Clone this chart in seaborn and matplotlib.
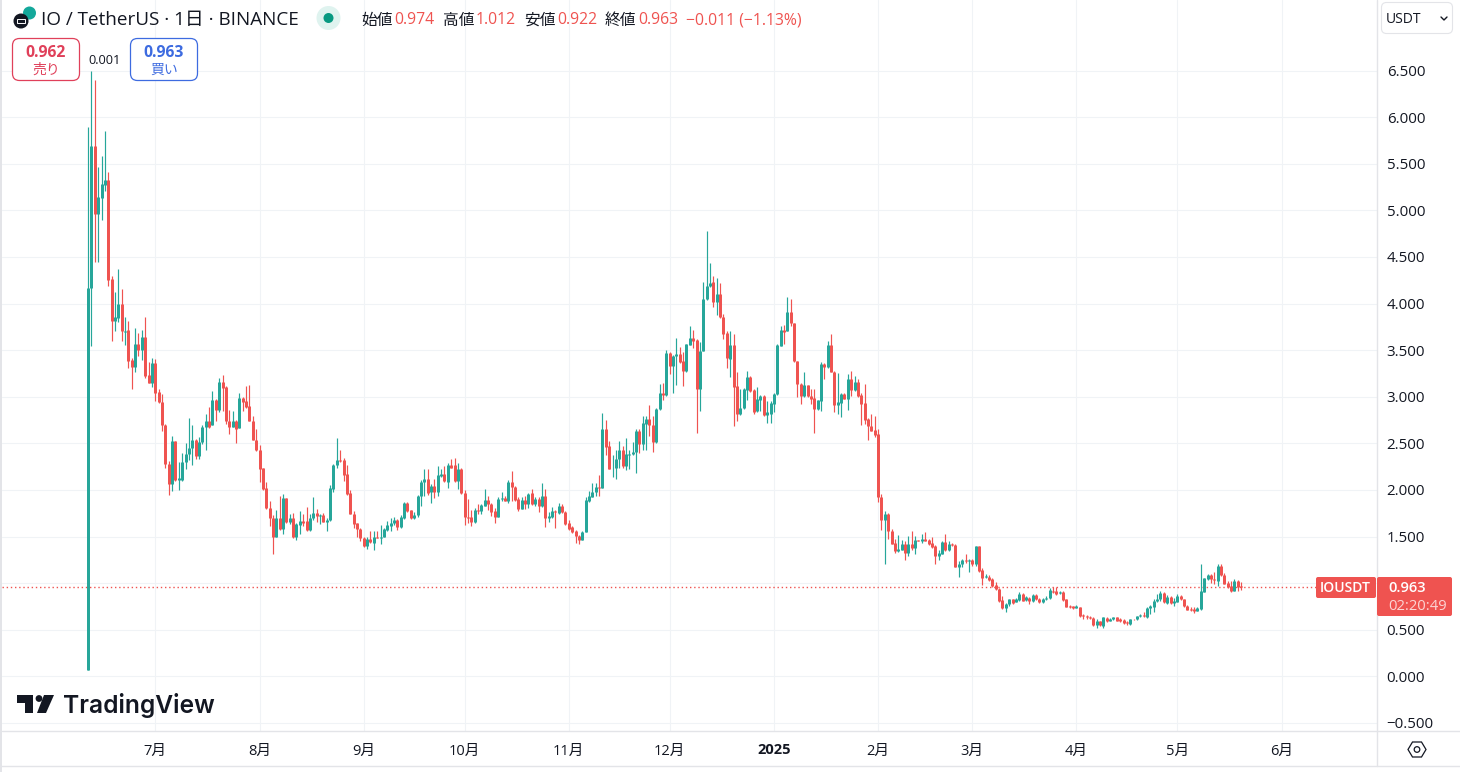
import matplotlib
matplotlib.use('Agg')
import matplotlib.pyplot as plt
import matplotlib.dates as mdates
from matplotlib.patches import Circle, FancyBboxPatch, Polygon, Rectangle
import seaborn as sns
import pandas as pd

first_day = '2024-06-11'

opens = [0.07,4.17,5.69,4.96,5.13,5.27,5.33,4.26,3.81,3.84,
    3.99,3.69,3.72,3.39,3.32,3.57,3.50,3.64,3.23,3.15,
    3.36,3.05,2.94,2.70,2.28,2.06,2.52,2.11,2.11,2.30,
    2.39,2.45,2.54,2.36,2.51,2.67,2.74,2.70,2.97,2.86,
    3.16,3.10,2.74,2.68,2.74,2.66,2.99,2.95,2.90,2.74,
    2.54,2.43,2.23,2.02,1.81,1.70,1.50,1.70,1.58,1.91,
    1.66,1.70,1.49,1.62,1.67,1.67,1.57,1.70,1.75,1.72,
    1.73,1.66,1.68,2.01,2.27,2.32,2.32,2.17,1.97,1.74,
    1.64,1.58,1.48,1.40,1.47,1.43,1.50,1.48,1.50,1.57,
    1.61,1.64,1.68,1.60,1.70,1.86,1.78,1.70,1.73,1.93,
    2.08,2.12,1.98,2.04,1.98,2.15,2.17,2.09,2.27,2.27,
    2.10,2.22,1.97,1.71,1.71,1.66,1.78,1.77,1.83,1.89,
    1.85,1.77,1.71,1.90,1.91,1.88,2.08,2.03,1.90,1.80,
    1.89,1.85,1.97,1.85,1.90,1.83,1.94,1.70,1.71,1.77,
    1.75,1.83,1.76,1.64,1.60,1.56,1.51,1.46,1.55,1.88,
    1.92,1.98,2.03,2.02,2.65,2.47,2.23,2.24,2.33,2.43,
    2.26,2.38,2.39,2.41,2.63,2.49,2.71,2.76,2.70,2.51,
    2.87,3.04,3.02,3.47,3.33,3.44,3.46,3.38,3.28,3.56,
    3.63,3.61,3.08,3.49,4.05,4.19,4.23,4.02,4.10,3.85,
    3.68,3.41,3.56,3.11,2.81,2.88,3.07,3.21,3.07,2.85,
    2.97,3.01,2.80,2.82,2.92,3.03,3.54,3.72,3.71,3.91,
    3.79,3.38,3.14,3.01,3.13,3.01,2.99,2.87,2.95,3.35,
    3.32,3.55,3.27,2.91,2.93,3.03,2.98,3.19,3.07,3.16,
    3.02,2.93,2.76,2.69,2.64,2.60,1.92,1.68,1.74,1.56,
    1.43,1.35,1.36,1.42,1.32,1.42,1.38,1.46,1.45,1.47,
    1.46,1.43,1.40,1.29,1.31,1.44,1.36,1.42,1.41,1.17,
    1.21,1.25,1.24,1.25,1.21,1.40,1.14,1.07,1.07,1.04,
    0.98,0.94,0.82,0.73,0.78,0.83,0.80,0.82,0.88,0.82,
    0.84,0.81,0.87,0.83,0.80,0.83,0.84,0.92,0.92,0.89,
    0.91,0.83,0.75,0.75,0.73,0.74,0.66,0.65,0.64,0.63,
    0.55,0.59,0.54,0.63,0.59,0.61,0.64,0.61,0.60,0.58,
    0.56,0.62,0.61,0.65,0.66,0.64,0.73,0.74,0.81,0.83,
    0.89,0.79,0.85,0.79,0.80,0.86,0.83,0.75,0.72,0.72,
    0.70,0.72,0.91,1.04,1.09,1.04,1.02,1.18,1.09,1.00,
    0.97,0.92,1.02,0.974]

highs = [5.89,6.50,6.40,5.46,5.58,5.85,5.41,4.30,4.12,4.37,
    4.16,3.86,3.81,3.42,3.74,3.68,3.72,3.85,3.37,3.42,
    3.40,3.08,3.03,2.71,2.31,2.58,2.52,2.30,2.40,2.50,
    2.77,2.70,2.55,2.57,2.70,2.82,2.89,3.06,2.98,3.20,
    3.23,3.11,2.86,2.85,2.75,3.04,3.00,3.11,3.13,2.79,
    2.65,2.48,2.24,2.08,1.88,1.73,1.78,1.93,1.96,1.91,
    1.74,1.75,1.65,1.77,1.74,1.82,1.74,1.92,1.80,1.74,
    1.75,1.70,2.05,2.28,2.56,2.43,2.34,2.27,2.00,1.77,
    1.65,1.59,1.49,1.50,1.56,1.56,1.56,1.62,1.59,1.67,
    1.70,1.71,1.69,1.73,1.87,1.87,1.79,1.76,1.95,2.11,
    2.22,2.22,2.06,2.12,2.26,2.22,2.26,2.29,2.33,2.34,
    2.29,2.24,2.00,1.90,1.79,1.81,1.85,1.85,2.01,1.93,
    1.86,1.81,1.92,1.98,1.93,2.11,2.20,2.04,1.92,1.92,
    1.93,1.97,2.01,1.92,1.92,2.07,2.01,1.76,1.82,1.78,
    1.86,1.85,1.77,1.68,1.61,1.57,1.52,1.56,1.92,1.99,
    2.07,2.07,2.16,2.83,2.75,2.53,2.38,2.43,2.52,2.47,
    2.56,2.43,2.51,2.65,2.65,2.79,2.79,2.91,2.79,2.88,
    3.14,3.15,3.50,3.48,3.45,3.63,3.53,3.48,3.57,3.76,
    3.72,3.62,3.59,4.23,4.78,4.43,4.30,4.27,4.22,3.89,
    3.70,3.71,3.67,3.27,3.08,3.09,3.28,3.22,3.08,3.10,
    3.02,3.02,2.95,2.95,3.04,3.57,3.76,3.77,4.07,4.05,
    3.79,3.38,3.15,3.27,3.13,3.08,3.08,2.97,3.37,3.36,
    3.60,3.67,3.28,3.25,3.04,3.04,3.24,3.28,3.22,3.19,
    3.04,3.14,2.77,2.82,2.79,2.65,1.96,1.77,1.75,1.58,
    1.47,1.52,1.46,1.45,1.51,1.56,1.51,1.46,1.53,1.55,
    1.47,1.49,1.41,1.36,1.45,1.53,1.45,1.43,1.42,1.24,
    1.26,1.31,1.26,1.26,1.40,1.40,1.16,1.10,1.09,1.05,
    1.01,0.95,0.86,0.79,0.83,0.83,0.84,0.90,0.89,0.86,
    0.85,0.88,0.88,0.84,0.84,0.86,0.95,0.96,0.96,0.92,
    0.92,0.83,0.77,0.75,0.77,0.74,0.67,0.66,0.65,0.64,
    0.61,0.59,0.64,0.64,0.63,0.64,0.64,0.63,0.62,0.59,
    0.62,0.62,0.65,0.67,0.69,0.74,0.77,0.83,0.88,0.92,
    0.90,0.87,0.86,0.84,0.88,0.87,0.83,0.77,0.74,0.74,
    0.74,1.20,1.06,1.10,1.10,1.12,1.20,1.21,1.11,1.02,
    1.02,1.04,1.03,1.012]

lows = [0.07,3.54,4.45,4.45,4.90,5.21,4.19,3.60,3.70,3.80,
    3.60,3.56,3.31,3.08,3.27,3.44,3.39,3.20,3.15,3.10,
    2.95,2.93,2.63,2.24,1.95,1.99,2.10,2.00,2.10,2.22,
    2.32,2.27,2.33,2.33,2.49,2.43,2.66,2.70,2.74,2.84,
    2.85,2.71,2.60,2.68,2.50,2.66,2.85,2.88,2.74,2.54,
    2.42,2.08,2.00,1.80,1.61,1.31,1.50,1.57,1.53,1.65,
    1.63,1.48,1.46,1.53,1.61,1.56,1.56,1.68,1.66,1.63,
    1.66,1.56,1.67,1.98,2.24,2.30,2.10,1.95,1.74,1.59,
    1.49,1.45,1.39,1.37,1.43,1.36,1.48,1.42,1.49,1.56,
    1.56,1.62,1.57,1.59,1.69,1.76,1.69,1.69,1.71,1.83,
    1.93,1.95,1.86,1.91,1.93,2.14,2.09,2.02,2.23,2.08,
    2.01,1.96,1.62,1.65,1.61,1.64,1.74,1.74,1.83,1.79,
    1.72,1.64,1.71,1.88,1.88,1.86,1.88,1.88,1.77,1.80,
    1.80,1.81,1.84,1.83,1.76,1.82,1.60,1.66,1.70,1.59,
    1.74,1.75,1.62,1.57,1.54,1.43,1.42,1.46,1.55,1.87,
    1.92,1.93,1.93,2.02,2.38,2.22,2.14,2.12,2.24,2.24,
    2.21,2.22,2.38,2.18,2.40,2.43,2.43,2.58,2.41,2.50,
    2.86,2.96,3.01,3.24,3.04,3.13,3.36,3.12,3.27,3.55,
    3.52,2.61,2.85,3.49,4.04,4.18,3.96,3.88,3.84,3.62,
    3.31,3.21,2.69,2.74,2.80,2.87,2.97,3.05,2.82,2.84,
    2.85,2.79,2.72,2.72,2.84,3.02,3.54,3.57,3.70,3.76,
    3.37,3.00,2.92,3.00,3.00,2.92,2.61,2.86,2.85,3.19,
    3.31,3.26,2.84,2.81,2.78,2.98,2.86,3.01,3.06,3.00,
    2.70,2.71,2.54,2.63,2.57,1.87,1.57,1.21,1.47,1.42,
    1.32,1.33,1.36,1.25,1.29,1.36,1.31,1.45,1.43,1.45,
    1.41,1.38,1.21,1.25,1.31,1.34,1.35,1.40,1.17,1.07,
    1.17,1.22,1.12,1.18,1.18,1.12,0.98,1.05,1.02,0.96,
    0.93,0.80,0.72,0.69,0.76,0.78,0.80,0.81,0.81,0.81,
    0.78,0.80,0.82,0.79,0.79,0.82,0.83,0.89,0.87,0.88,
    0.81,0.74,0.73,0.72,0.73,0.64,0.62,0.61,0.62,0.54,
    0.52,0.54,0.52,0.58,0.59,0.60,0.59,0.58,0.56,0.55,
    0.55,0.60,0.60,0.64,0.64,0.63,0.67,0.69,0.80,0.81,
    0.79,0.78,0.78,0.75,0.80,0.82,0.74,0.71,0.70,0.68,
    0.70,0.71,0.90,1.03,1.00,0.99,0.97,1.08,0.99,0.95,
    0.90,0.92,0.92,0.922]

closes = [4.17,5.69,4.96,5.14,5.28,5.33,4.25,3.81,3.85,3.99,
    3.70,3.70,3.38,3.32,3.57,3.50,3.64,3.22,3.15,3.36,
    3.04,2.94,2.70,2.28,2.06,2.52,2.11,2.13,2.30,2.39,
    2.45,2.54,2.36,2.51,2.67,2.74,2.68,2.97,2.86,3.16,
    3.09,2.74,2.68,2.74,2.65,2.99,2.94,2.89,2.74,2.54,
    2.43,2.22,2.01,1.81,1.70,1.50,1.70,1.58,1.91,1.66,
    1.70,1.49,1.63,1.67,1.64,1.57,1.70,1.75,1.72,1.73,
    1.66,1.68,2.02,2.27,2.32,2.31,2.16,1.96,1.74,1.63,
    1.58,1.48,1.40,1.47,1.44,1.50,1.48,1.50,1.58,1.62,
    1.65,1.68,1.60,1.71,1.86,1.77,1.70,1.73,1.94,2.08,
    2.12,1.97,2.04,1.98,2.16,2.17,2.10,2.27,2.24,2.10,
    2.22,1.97,1.71,1.70,1.66,1.78,1.77,1.84,1.89,1.85,
    1.76,1.71,1.90,1.91,1.88,2.08,2.03,1.89,1.80,1.89,
    1.85,1.96,1.85,1.90,1.83,1.94,1.70,1.72,1.77,1.76,
    1.83,1.76,1.63,1.58,1.55,1.51,1.46,1.55,1.89,1.93,
    1.98,2.03,2.02,2.65,2.46,2.22,2.24,2.33,2.43,2.26,
    2.39,2.39,2.41,2.63,2.49,2.72,2.76,2.70,2.51,2.87,
    3.04,3.02,3.47,3.33,3.44,3.46,3.37,3.28,3.57,3.63,
    3.60,3.08,3.49,4.05,4.19,4.22,4.02,4.10,3.85,3.67,
    3.42,3.56,3.10,2.81,2.88,3.08,3.21,3.06,2.84,2.98,
    3.01,2.80,2.84,2.93,3.03,3.55,3.72,3.69,3.91,3.79,
    3.38,3.14,3.01,3.13,3.01,2.98,2.87,2.96,3.35,3.32,
    3.55,3.27,2.91,2.94,3.03,2.98,3.19,3.07,3.16,3.01,
    2.92,2.75,2.69,2.63,2.59,1.92,1.68,1.74,1.56,1.42,
    1.35,1.37,1.42,1.32,1.42,1.38,1.46,1.45,1.47,1.45,
    1.42,1.39,1.29,1.32,1.44,1.36,1.42,1.41,1.17,1.21,
    1.25,1.24,1.25,1.21,1.40,1.13,1.06,1.08,1.03,0.97,
    0.94,0.81,0.73,0.78,0.83,0.79,0.83,0.88,0.81,0.85,
    0.81,0.87,0.83,0.80,0.83,0.84,0.93,0.91,0.88,0.91,
    0.82,0.74,0.74,0.73,0.75,0.65,0.65,0.64,0.63,0.55,
    0.59,0.55,0.64,0.59,0.62,0.64,0.59,0.59,0.57,0.57,
    0.61,0.61,0.65,0.66,0.65,0.73,0.75,0.81,0.83,0.89,
    0.80,0.85,0.79,0.81,0.86,0.83,0.75,0.71,0.71,0.70,
    0.73,0.92,1.05,1.09,1.04,1.03,1.18,1.09,0.99,0.96,
    0.92,1.02,0.96,0.963]

price_ticks = [-0.5, 0.0, 0.5, 1.0, 1.5, 2.0, 2.5, 3.0, 3.5, 4.0, 4.5, 5.0, 5.5, 6.0, 6.5]
month_ticks = ['2024-07-01', '2024-08-01', '2024-09-01', '2024-10-01', '2024-11-01', '2024-12-01',
               '2025-01-01', '2025-02-01', '2025-03-01', '2025-04-01', '2025-05-01', '2025-06-01']
month_labels = ['7月', '8月', '9月', '10月', '11月', '12月', '2025', '2月', '3月', '4月', '5月', '6月']
last_price = 0.963

UP = '#26a69a'
DOWN = '#ef5350'
GRID = '#f0f3f6'
EDGE = '#e3e4e8'
INK = '#131722'
FONT = ['Open Sans', 'Noto Sans CJK JP', 'DejaVu Sans']

sns.set_style('white')
plt.rcParams['font.family'] = FONT

# one row per candle end, so lineplot can draw each wick and body as its own line
days = mdates.date2num(pd.date_range(first_day, periods=len(opens)))
df = pd.DataFrame({'day': days, 'open': opens, 'high': highs, 'low': lows, 'close': closes})
df['side'] = ['up' if c >= o else 'down' for o, c in zip(opens, closes)]
df['candle'] = range(len(df))
wicks = df.melt(id_vars=['day', 'side', 'candle'], value_vars=['low', 'high'], value_name='price')
bodies = df.melt(id_vars=['day', 'side', 'candle'], value_vars=['open', 'close'], value_name='price')
palette = {'up': UP, 'down': DOWN}

fig = plt.figure(figsize=(14.6, 7.72), dpi=100, facecolor='white')
ax = fig.add_axes([2 / 1460, 1 - 731 / 772, 1375 / 1460, 731 / 772])

for part, width in [(wicks, 0.85), (bodies, 2.15)]:
    sns.lineplot(data=part, x='day', y='price', hue='side', units='candle', estimator=None,
                 palette=palette, sort=False, legend=False, linewidth=width,
                 solid_capstyle='butt', ax=ax, zorder=3)

# the scales: 3.362 px a day and 93.2 px per 1.0 of price
ax.set_xlim(days[0] - 25.6, days[0] + 383.4)
ax.set_ylim(-0.5865, 7.2565)
ax.axhline(last_price, color=DOWN, linewidth=1.0, linestyle=(0, (1, 2)), zorder=2)

ax.set_xticks(mdates.date2num(pd.to_datetime(month_ticks)))
ax.set_xticklabels(month_labels)
ax.set_yticks(price_ticks)
# the 1.000 label sits behind the last price tag in the original, so only its gridline stays
ax.set_yticklabels(['' if p == 1.0 else ('%.3f' % p).replace('-', '−') for p in price_ticks])
ax.yaxis.tick_right()
ax.grid(True, color=GRID, linewidth=0.8)
ax.set_axisbelow(True)
ax.set_xlabel('')
ax.set_ylabel('')
ax.tick_params(axis='x', length=0, pad=9, labelsize=10.5, labelcolor=INK)
ax.tick_params(axis='y', length=0, pad=7, labelsize=10.8, labelcolor=INK)
for label in ax.get_xticklabels():
    if label.get_text() == '2025':
        label.set_fontweight('bold')
for spine in ax.spines.values():
    spine.set_visible(False)

# everything around the chart, in reference pixels
top = fig.add_axes([0, 0, 1, 1], facecolor='none')
top.set_xlim(0, 1460)
top.set_ylim(772, 0)
top.axis('off')

top.add_patch(Rectangle((0, 0), 2, 772, color=EDGE, lw=0))
top.plot([2, 1460], [731, 731], color=EDGE, lw=1)
top.plot([0, 1460], [765.5, 765.5], color=EDGE, lw=1)
top.plot([1377, 1377], [0, 766], color=EDGE, lw=1)

# symbol icon and title
top.add_patch(Circle((29.5, 13), 6.5, color='#14a89b', lw=0))
top.add_patch(Circle((21, 21), 7.5, color='#131722', lw=0))
top.add_patch(Rectangle((17, 19), 8, 4, fc='none', ec='white', lw=0.7))
top.text(41, 20, 'IO / TetherUS · 1日 · BINANCE', fontsize=13.6, color=INK, va='center')

top.add_patch(Circle((328.5, 18), 12, color='#dff3ef', lw=0))
top.add_patch(Circle((328.5, 18), 5, color='#089981', lw=0))

for x, text in [(361, '始値'), (443, '高値'), (524, '安値'), (605, '終値')]:
    top.text(x, 20.5, text, fontsize=11.3, color=INK, va='center')
for x, text in [(394, '0.974'), (476, '1.012'), (557, '0.922'), (638, '0.963'), (686, '−0.011 (−1.13%)')]:
    top.text(x, 20.5, text, fontsize=11.3, color=DOWN, va='center')

# sell and buy boxes
top.add_patch(FancyBboxPatch((12.5, 38.5), 67, 42, boxstyle='round,pad=0,rounding_size=7',
                             fc='white', ec='#e0405a', lw=0.9, zorder=5))
top.text(46, 53, '0.962', fontsize=11.3, color='#e0405a', fontweight='bold', ha='center', va='center', zorder=6)
top.text(46, 70, '売り', fontsize=10, color='#e0405a', ha='center', va='center', zorder=6)
top.text(105, 60, '0.001', fontsize=9.2, color=INK, ha='center', va='center', zorder=6)
top.add_patch(FancyBboxPatch((130.5, 38.5), 67, 42, boxstyle='round,pad=0,rounding_size=7',
                             fc='white', ec='#3d6be0', lw=0.9, zorder=5))
top.text(164, 53, '0.963', fontsize=11.3, color='#3d6be0', fontweight='bold', ha='center', va='center', zorder=6)
top.text(164, 70, '買い', fontsize=10, color='#3d6be0', ha='center', va='center', zorder=6)

# currency button
top.add_patch(FancyBboxPatch((1381.5, 2.5), 71, 31, boxstyle='round,pad=0,rounding_size=5',
                             fc='white', ec=EDGE, lw=0.8))
top.text(1386, 19.5, 'USDT', fontsize=10, color=INK, va='center')
top.plot([1441, 1444, 1447], [17, 20, 17], color=INK, lw=1)

# last price tags
top.add_patch(FancyBboxPatch((1316, 577), 60, 21, boxstyle='round,pad=0,rounding_size=2', fc=DOWN, ec='none', zorder=5))
top.text(1345.5, 588.5, 'IOUSDT', fontsize=10, color='white', fontweight='semibold', ha='center', va='center', zorder=6)
top.add_patch(FancyBboxPatch((1377, 577), 75, 39, boxstyle='round,pad=0,rounding_size=2', fc=DOWN, ec='none', zorder=5))
top.text(1388, 588.5, '0.963', fontsize=10.6, color='white', fontweight='semibold', va='center', zorder=6)
top.text(1388, 606.5, '02:20:49', fontsize=10.6, color='#fcd5d4', va='center', zorder=6)

# settings hexagon
top.add_patch(Polygon([(1408, 749.5), (1412.5, 742), (1421.5, 742), (1426, 749.5), (1421.5, 757), (1412.5, 757)],
                      closed=True, fc='white', ec=INK, lw=0.9))
top.add_patch(Circle((1417, 749.5), 2.8, fc='white', ec=INK, lw=0.9))

# TradingView mark
top.add_patch(Polygon([(17, 695), (33, 695), (33, 713), (25, 713), (25, 703), (17, 703)], closed=True, color='#131722', lw=0))
top.add_patch(Circle((39, 698.5), 3.4, color='#131722', lw=0))
top.add_patch(Polygon([(44, 695), (54, 695), (46, 713), (37, 713)], closed=True, color='#131722', lw=0))
top.text(63, 705.5, 'TradingView', fontsize=17.7, color='#131722', fontweight='semibold',
         family=['Inter', 'DejaVu Sans'], va='center')

fig.savefig('out.png', dpi=100)
